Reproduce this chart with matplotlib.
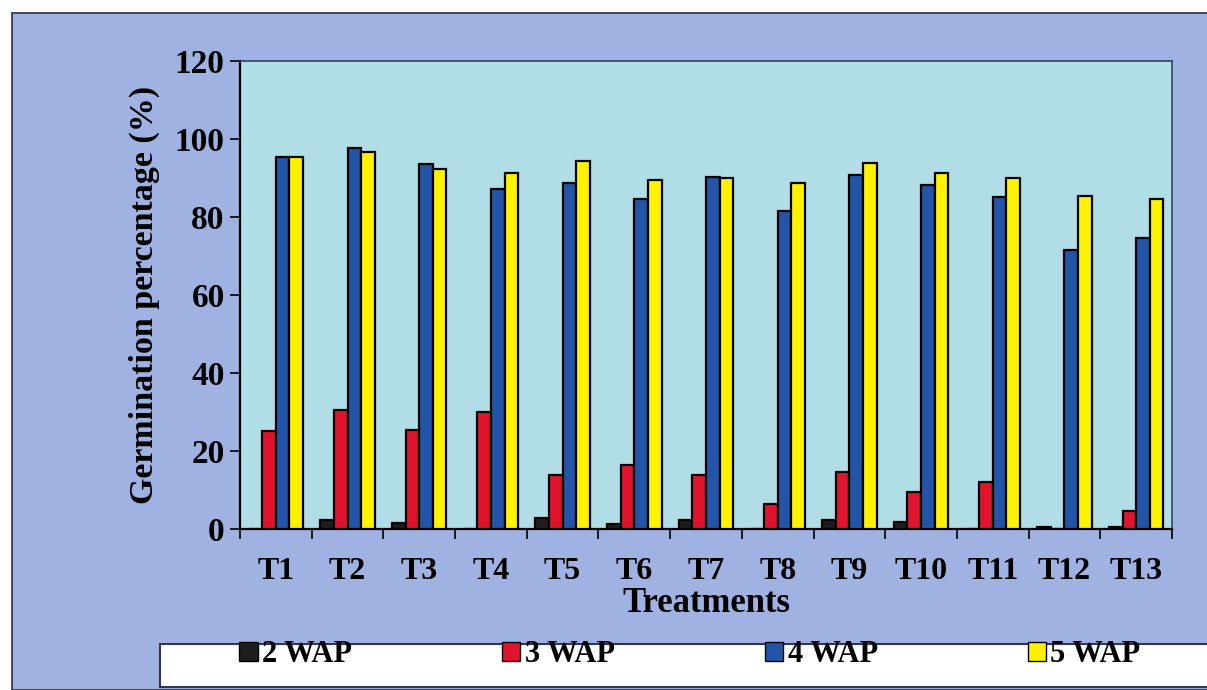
import numpy as np
import matplotlib
matplotlib.use("Agg")
import matplotlib.pyplot as plt
from matplotlib.patches import Rectangle, Patch

categories = ["T1", "T2", "T3", "T4", "T5", "T6", "T7", "T8", "T9", "T10", "T11", "T12", "T13"]
wap2 = [0, 2.2, 1.5, 0, 2.8, 1.4, 2.2, 0, 2.4, 1.8, 0, 0.6, 0.6]
wap3 = [25.2, 30.5, 25.3, 29.9, 13.8, 16.3, 13.8, 6.5, 14.5, 9.5, 12.0, 0, 4.5]
wap4 = [95.3, 97.7, 93.6, 87.1, 88.7, 84.7, 90.3, 81.6, 90.8, 88.3, 85.2, 71.5, 74.5]
wap5 = [95.3, 96.7, 92.3, 91.4, 94.3, 89.4, 89.9, 88.7, 93.8, 91.3, 90.1, 85.5, 84.5]
series_labels = ["2 WAP", "3 WAP", "4 WAP", "5 WAP"]
series_colors = ["#1e1e1e", "#e0142c", "#2254a8", "#fff200"]
yticks = [0, 20, 40, 60, 80, 100, 120]

W, H = 1207, 690
fig = plt.figure(figsize=(W / 100, H / 100), dpi=100)
fig.patch.set_facecolor("white")

outer_bg = "#a0b2e2"
# outer chart panel
fig.patches.append(Rectangle((12 / W, 0), 1.0, 1 - 13 / H, transform=fig.transFigure,
                             facecolor=outer_bg, edgecolor="#2a2f4a", linewidth=1.2, zorder=-5))
# legend strip
fig.patches.append(Rectangle((160 / W, 3 / H), 1.0, 43 / H, transform=fig.transFigure,
                             facecolor="white", edgecolor="#303850", linewidth=1.5, zorder=-4))

ax = fig.add_axes([240 / W, 1 - 529 / H, (1172 - 240) / W, (529 - 61) / H])
ax.set_facecolor("#b1dde6")

font = ["Liberation Serif", "DejaVu Serif"]
x = np.arange(len(categories))
bw = 0.19
series = [wap2, wap3, wap4, wap5]
for i, (vals, col) in enumerate(zip(series, series_colors)):
    ax.bar(x + (i - 1.5) * bw, vals, width=bw, color=col, edgecolor="black",
           linewidth=1.6, zorder=3)

ax.set_xlim(-0.5, len(categories) - 0.5)
ax.set_ylim(0, 120)
ax.set_yticks(yticks)
ax.set_yticklabels([str(v) for v in yticks], fontfamily=font, fontweight="bold", fontsize=24)
ax.set_xticks(np.arange(len(categories) + 1) - 0.5)
ax.set_xticklabels([])
ax.set_xticks(x, minor=True)
ax.set_xticklabels(categories, minor=True, fontfamily=font, fontweight="bold", fontsize=23)
ax.tick_params(axis="x", which="major", direction="out", length=7, width=1.2)
ax.tick_params(axis="x", which="minor", length=0, pad=20)
ax.tick_params(axis="y", direction="out", length=7, width=1.2, pad=4)

for s in ["left", "bottom"]:
    ax.spines[s].set_linewidth(1.6)
    ax.spines[s].set_color("black")
for s in ["top", "right"]:
    ax.spines[s].set_linewidth(1.2)
    ax.spines[s].set_color("#3a4060")

ax.set_xlabel("Treatments", fontfamily=font, fontweight="bold", fontsize=25, labelpad=1)
ax.set_ylabel("Germination percentage (%)", fontfamily=font, fontweight="bold",
              fontsize=24.5, labelpad=11)

handles = [Patch(facecolor=c, edgecolor="black", linewidth=1.0) for c in series_colors]
leg = fig.legend(handles, series_labels, ncol=4, loc="center",
                 bbox_to_anchor=(690 / W, 1 - 655 / H), frameon=False,
                 prop={"family": font, "weight": "bold", "size": 22},
                 handlelength=0.6, handleheight=0.6, handletextpad=0.15,
                 columnspacing=4.9)

fig.savefig("out.png", dpi=100, facecolor=fig.get_facecolor())
